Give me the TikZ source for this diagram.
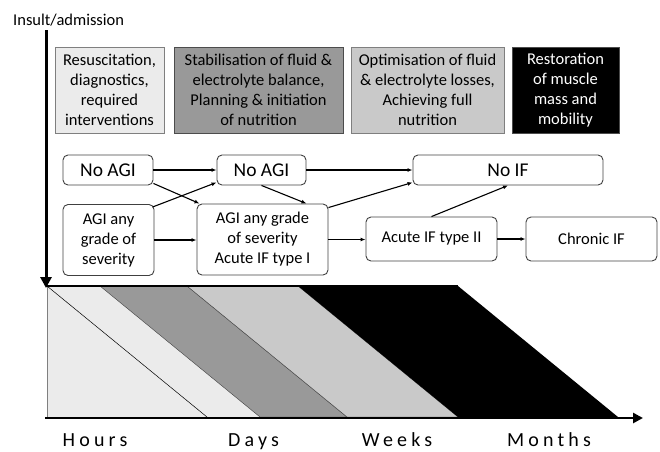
\documentclass[tikz,border=0pt]{standalone}
\usepackage{fontspec}
\setmainfont{Carlito}
\newfontfamily\spacedfont[LetterSpace=21]{Carlito}
\usetikzlibrary{arrows.meta,calc}
\definecolor{bandA}{HTML}{EBEBEB}
\definecolor{bandB}{HTML}{999999}
\definecolor{bandC}{HTML}{C9C9C9}
\definecolor{boxline}{HTML}{7F7F7F}
\definecolor{nodeline}{HTML}{404040}
\tikzset{
  phase/.style={draw=boxline, line width=0.8pt, minimum height=86pt, inner sep=0pt, align=center, font=\fontsize{16.5}{20}\selectfont},
  state/.style={draw=nodeline, rounded corners=5pt, line width=0.9pt, inner sep=0pt, align=center, font=\fontsize{16.5}{20}\selectfont},
  bigstate/.style={state, font=\fontsize{19.5}{23}\selectfont},
  flow/.style={-{Latex[length=5pt,width=4pt]}, line width=1.1pt},
  band/.style={draw=black!75, line width=0.4pt},
  timelabel/.style={anchor=base, inner sep=0pt, font=\spacedfont\fontsize{20}{24}\selectfont}
}
\begin{document}
\begin{tikzpicture}[x=1pt,y=-1pt]
\useasboundingbox (0,0) rectangle (660,451);
% title
\node[anchor=base west, inner sep=0pt, font=\fontsize{16.5}{20}\selectfont] (insult) at (13,25.5) {Insult/admission};
% phase boxes
\node[phase, fill=bandA, minimum width=109pt] (p1) at (109.5,90) {Resuscitation,\\diagnostics,\\required\\interventions};
\node[phase, fill=bandB, draw=black!70, minimum width=169pt] (p2) at (258.5,90) {Stabilisation of fluid \&\\electrolyte balance,\\Planning \& initiation\\of nutrition};
\node[phase, fill=bandC, minimum width=153pt] (p3) at (427.5,90) {Optimisation of fluid\\\& electrolyte losses,\\Achieving full\\nutrition};
\node[phase, fill=black, draw=black!70, text=white, minimum width=107pt] (p4) at (565.5,90) {Restoration\\of muscle\\mass and\\mobility};
% states
\node[bigstate, minimum width=90pt, minimum height=30pt] (n1) at (108,170) {No AGI};
\node[bigstate, minimum width=89pt, minimum height=30pt] (n2) at (261.5,170) {No AGI};
\node[bigstate, minimum width=190pt, minimum height=30pt] (nif) at (508,170) {No IF};
\node[state, minimum width=91pt, minimum height=71pt] (a1) at (108.5,240) {AGI any\\grade of\\severity};
\node[state, minimum width=131pt, minimum height=71pt] (a2) at (262.5,239.5) {AGI any grade\\of severity\\Acute IF type I};
\node[state, minimum width=131pt, minimum height=44pt] (ac2) at (431.5,239) {Acute IF type II};
\node[state, minimum width=131pt, minimum height=44pt] (ch) at (591.5,239) {Chronic IF};
% transitions
\draw[flow] (n1.east) -- (n2.west);
\draw[flow] ([yshift=2pt]n1.south east) -- ([xshift=3pt]a2.north west);
\draw[flow] ([xshift=-2pt,yshift=-3pt]a1.north east) -- ([yshift=3pt]n2.south west);
\draw[flow] (a1.east) -- (a1.east -| a2.west);
\draw[flow] (n2.south) -- ([xshift=-22pt]a2.north east);
\draw[flow] (n2.east) -- (n2.east -| nif.west);
\draw[flow] ([yshift=-4pt]a2.north east) -- ([yshift=3pt]nif.south west);
\draw[flow] (a2.east) -- (a2.east -| ac2.west);
\draw[flow] (ac2.north) -- (nif.south);
\draw[flow] (ac2.east) -- (ch.west);
% time bands
\fill[bandA] (47,286) -- (100,286) -- (260,417) -- (47,417) -- cycle;
\draw[boxline, line width=0.8pt] (47,286) -- (47,417);
\draw[line width=0.5pt] (47,286) -- (207,417);
\filldraw[band, fill=bandB] (100,286) -- (187,286) -- (347,417) -- (260,417) -- cycle;
\filldraw[band, fill=bandC] (187,286) -- (298,286) -- (458,417) -- (347,417) -- cycle;
\fill[black] (298,286) -- (458,286) -- (618,417) -- (458,417) -- cycle;
\draw[line width=2pt] (46,286) -- (458,286);
% axes
\coordinate (vtop) at (46,30);
\coordinate (origin) at (46,288);
\coordinate (xstart) at (45,418);
\coordinate (xend) at (643,418);
\draw[line width=3pt, -{Triangle[length=11pt,width=11pt]}] (vtop) -- (origin);
\draw[line width=2.5pt, -{Triangle[length=10pt,width=10pt]}] (xstart) -- (xend);
% time labels
\node[timelabel] (hours) at (95,446) {Hours};
\node[timelabel] (days) at (253.5,446) {Days};
\node[timelabel] (weeks) at (397,446) {Weeks};
\node[timelabel] (months) at (549,446) {Months};
\end{tikzpicture}
\end{document}
